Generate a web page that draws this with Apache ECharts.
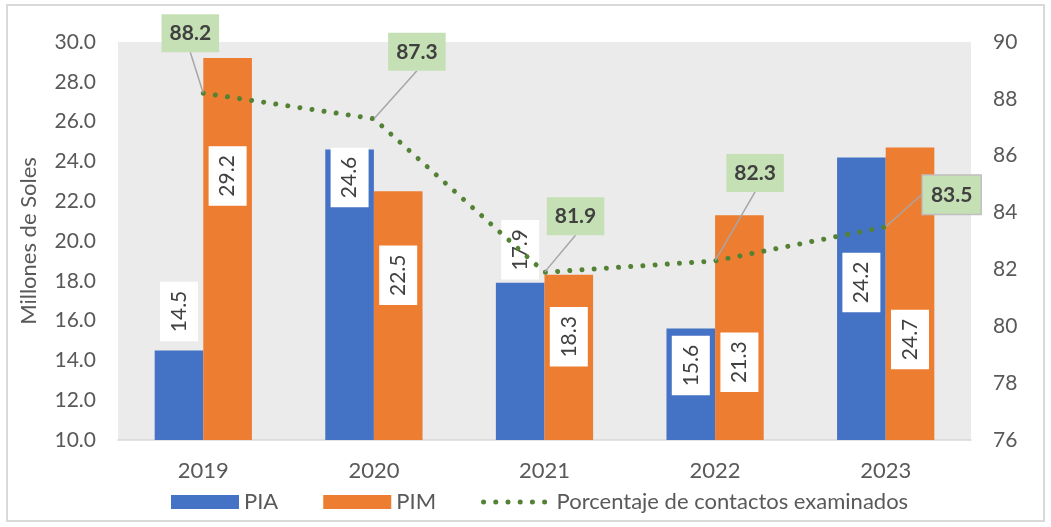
<!DOCTYPE html>
<html>
<head>
<meta charset="utf-8">
<title>PIA, PIM y porcentaje de contactos examinados</title>
<script src="https://cdn.jsdelivr.net/npm/echarts@6/dist/echarts.min.js"></script>
<style>
  html, body { margin: 0; padding: 0; background: #fff; }
  #chart { width: 1051px; height: 527px; }
</style>
</head>
<body>
<div id="chart"></div>
<script>
// datos del grafico
var years = ['2019', '2020', '2021', '2022', '2023'];
var pia = [14.5, 24.6, 17.9, 15.6, 24.2];
var pim = [29.2, 22.5, 18.3, 21.3, 24.7];
var porcentaje = [88.2, 87.3, 81.9, 82.3, 83.5];

// etiquetas movidas a mano en el original (px desde el tope de la barra / desde el punto)
var piaLabelShift = [-39, 28, -33, 37, 125];
var pimLabelShift = [118, 84, 62, 147, 192];
var pctLabelShift = [[-13, -60], [43, -67], [31, -56], [40, -88], [66, -32]];
// lineas guia con codo (2020 y 2023)
var pctElbow = [null, 'vertical', null, null, 'short'];

var FONT = 'Lato, "Open Sans", sans-serif';
var GREY = '#595959';

var chart = echarts.init(document.getElementById('chart'));

var barLabel = {
  show: true,
  rotate: 90,
  align: 'center',
  verticalAlign: 'middle',
  color: '#404040',
  fontFamily: FONT,
  fontSize: 21,
  lineHeight: 24,
  backgroundColor: '#ffffff',
  padding: [7, 9],
  formatter: function (p) { return p.value.toFixed(1); }
};

// cada barra con su etiqueta en la posicion del original
function barData(values, shifts) {
  return values.map(function (v, i) {
    return { value: v, label: { position: ['50%', shifts[i]] } };
  });
}

chart.setOption({
  animation: false,
  textStyle: { fontFamily: FONT },
  graphic: [{
    type: 'rect',
    shape: { x: 7, y: 5, width: 1037, height: 516 },
    style: { fill: 'none', stroke: '#d9d9d9', lineWidth: 2 },
    silent: true
  }],
  grid: {
    left: 118,
    right: 80,
    top: 42,
    bottom: 87,
    show: true,
    backgroundColor: '#ebebeb',
    borderWidth: 0,
    outerBoundsMode: 'none'
  },
  legend: {
    left: 166,
    top: 486,
    itemWidth: 68,
    itemHeight: 14,
    itemGap: 45,
    textStyle: { color: GREY, fontSize: 22, fontFamily: FONT },
    data: [
      { name: 'PIA', icon: 'rect' },
      { name: 'PIM', icon: 'rect' },
      {
        name: 'Porcentaje de contactos examinados',
        lineStyle: { color: '#548235', width: 5, type: [0.01, 12.2], cap: 'round' }
      }
    ]
  },
  xAxis: {
    type: 'category',
    data: years,
    axisTick: { show: false },
    axisLine: { lineStyle: { color: '#d9d9d9', width: 1.5 } },
    axisLabel: { color: GREY, fontSize: 22, margin: 20 }
  },
  yAxis: [
    {
      type: 'value',
      min: 10,
      max: 30,
      interval: 2,
      name: 'Millones de Soles',
      nameLocation: 'middle',
      nameGap: 78,
      nameTextStyle: { color: GREY, fontSize: 22 },
      splitLine: { show: false },
      axisLine: { show: false },
      axisLabel: {
        color: GREY,
        fontSize: 21,
        margin: 22,
        formatter: function (v) { return v.toFixed(1); }
      }
    },
    {
      type: 'value',
      min: 76,
      max: 90,
      interval: 2,
      splitLine: { show: false },
      axisLine: { show: false },
      axisLabel: { color: GREY, fontSize: 21, margin: 22 }
    }
  ],
  series: [
    {
      name: 'PIA',
      type: 'bar',
      data: barData(pia, piaLabelShift),
      barGap: '0%',
      barCategoryGap: '43%',
      itemStyle: { color: '#4472c4' },
      label: barLabel
    },
    {
      name: 'PIM',
      type: 'bar',
      data: barData(pim, pimLabelShift),
      barGap: '0%',
      barCategoryGap: '43%',
      itemStyle: { color: '#ed7d31' },
      label: barLabel
    },
    {
      name: 'Porcentaje de contactos examinados',
      type: 'line',
      yAxisIndex: 1,
      data: porcentaje.map(function (v, i) {
        // la ultima etiqueta tiene borde gris en el original
        return i === 4
          ? { value: v, label: { borderColor: '#bfbfbf', borderWidth: 1.5 } }
          : v;
      }),
      symbol: 'circle',
      symbolSize: 1,
      showSymbol: true,
      itemStyle: { color: 'rgba(0,0,0,0)' },
      lineStyle: { color: '#548235', width: 5, type: [0.01, 12.2], cap: 'round' },
      z: 5,
      label: {
        show: true,
        position: 'inside',
        color: '#404040',
        fontFamily: FONT,
        fontSize: 21,
        fontWeight: 'bold',
        lineHeight: 24,
        backgroundColor: '#c5e0b4',
        padding: [7, 8],
        formatter: function (p) { return p.value.toFixed(1); }
      },
      labelLine: {
        show: true,
        lineStyle: { color: '#a6a6a6', width: 1.5 }
      },
      labelLayout: function (p) {
        var i = p.dataIndex;
        var s = pctLabelShift[i];
        var px = p.rect.x + p.rect.width / 2;
        var py = p.rect.y + p.rect.height / 2;
        var out = {
          dx: px + s[0] - (p.labelRect.x + p.labelRect.width / 2),
          dy: py + s[1] - (p.labelRect.y + p.labelRect.height / 2)
        };
        var boxLeft = px + s[0] - p.labelRect.width / 2;
        var cy = py + s[1];
        if (pctElbow[i] === 'vertical') {
          out.labelLinePoints = [[px, py], [px, cy], [boxLeft, cy]];
        } else if (pctElbow[i] === 'short') {
          out.labelLinePoints = [[px, py], [boxLeft - 11, cy], [boxLeft, cy]];
        }
        return out;
      }
    }
  ]
});
</script>
</body>
</html>
